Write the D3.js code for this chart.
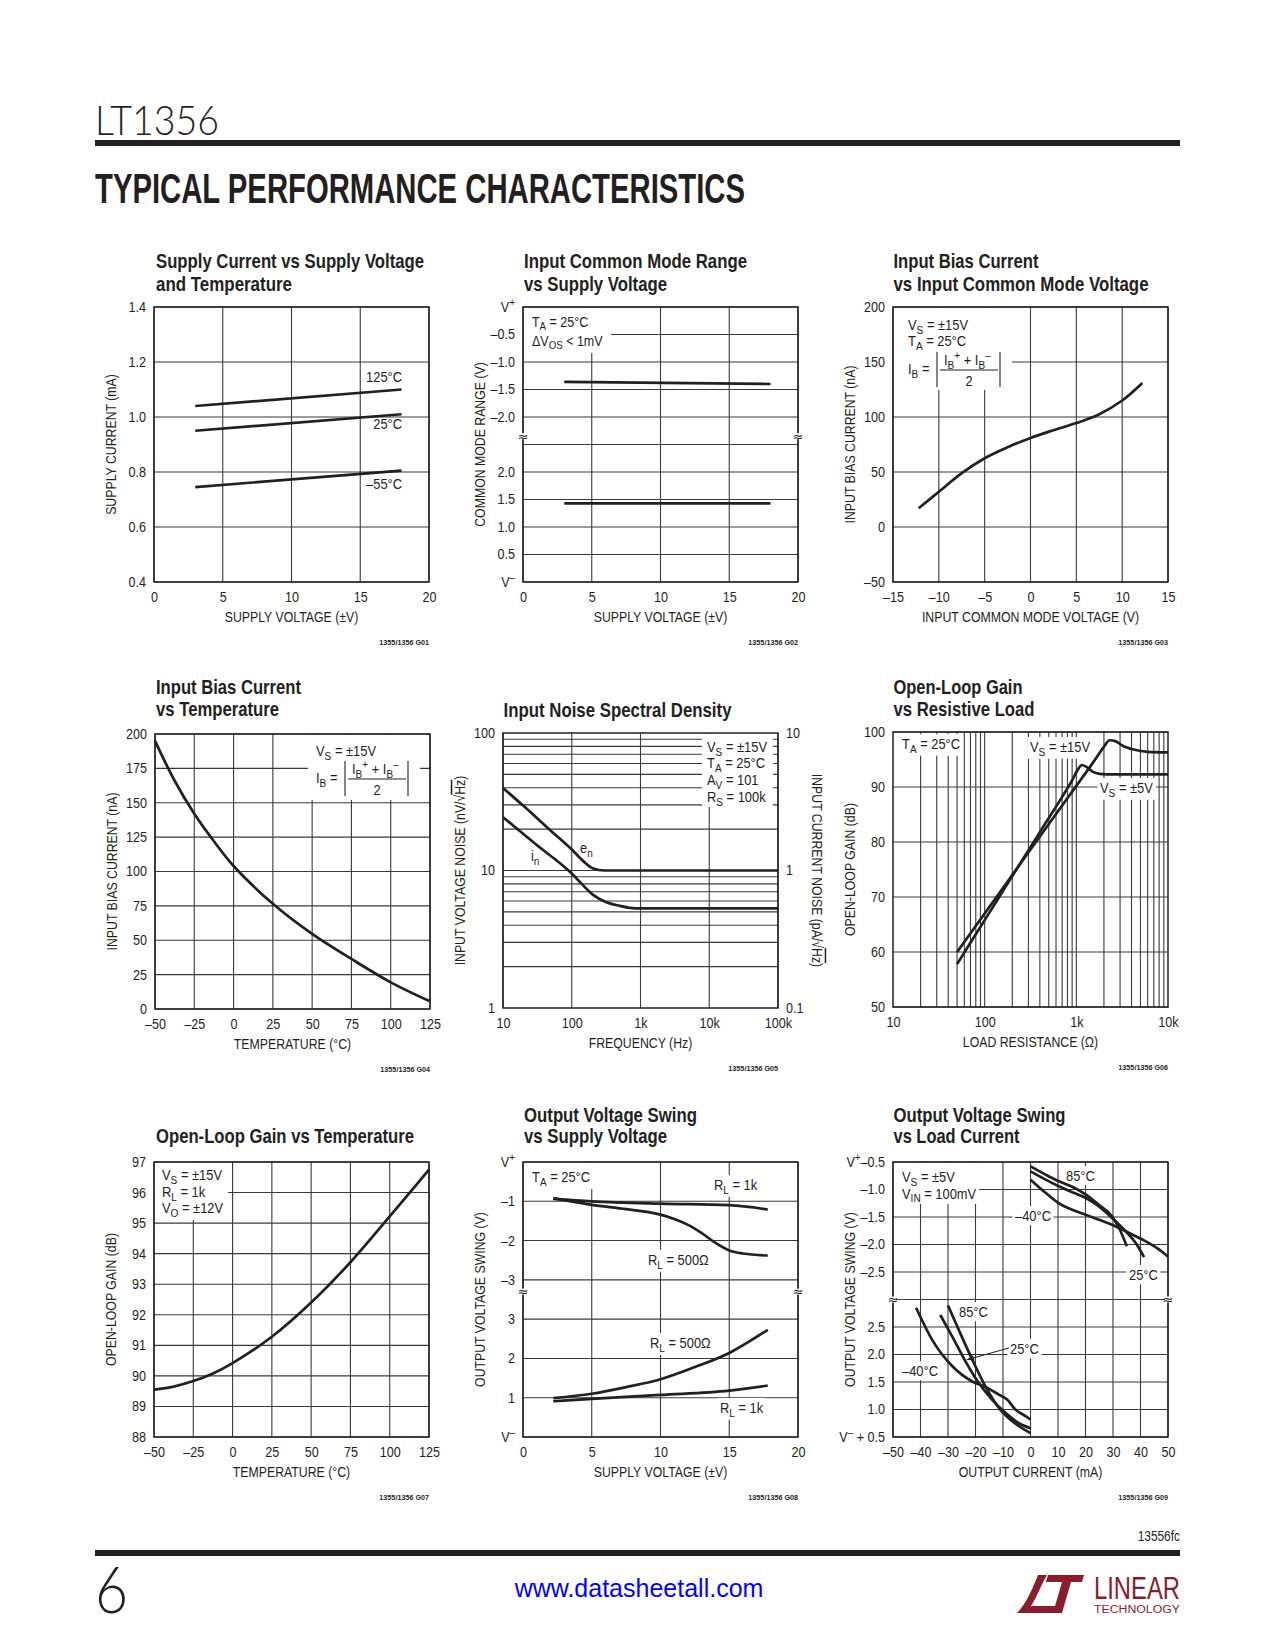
<!DOCTYPE html>
<html><head><meta charset="utf-8">
<script src="https://cdn.jsdelivr.net/npm/d3@7"></script>
<style>html,body{margin:0;padding:0;background:#fff;}svg{display:block;}</style>
</head><body>
<svg id="page" width="1275" height="1650"></svg>
<script>
// ================= DATA =================
// G01 Supply current vs supply voltage
const g01Title = ["Supply Current vs Supply Voltage", "and Temperature"];
const g01XTicks = [0, 5, 10, 15, 20];
const g01XTickLabels = ["0", "5", "10", "15", "20"];
const g01YTicks = [0.4, 0.6, 0.8, 1.0, 1.2, 1.4];
const g01YTickLabels = ["0.4", "0.6", "0.8", "1.0", "1.2", "1.4"];
const g01SupplyV = [3, 18];
const g01I125 = [1.04, 1.10];
const g01I25 = [0.95, 1.01];
const g01Im55 = [0.745, 0.805];

// G02 Input common mode range (broken axis: slots)
const g02Title = ["Input Common Mode Range", "vs Supply Voltage"];
const g02XTicks = [0, 5, 10, 15, 20];
const g02XTickLabels = ["0", "5", "10", "15", "20"];
const g02YSlots = [0, 1, 2, 3, 4, 5, 6, 7, 8, 9, 10];
const g02YTickLabels = ["V^{+}", "–0.5", "–1.0", "–1.5", "–2.0", "", "2.0", "1.5", "1.0", "0.5", "V^{–}"];
const g02SupplyV = [3, 18];
const g02UpperFromVplus = [-1.36, -1.40];
const g02LowerFromVminus = [1.43, 1.43];

// G03 Input bias current vs common mode voltage
const g03Title = ["Input Bias Current", "vs Input Common Mode Voltage"];
const g03XTicks = [-15, -10, -5, 0, 5, 10, 15];
const g03XTickLabels = ["–15", "–10", "–5", "0", "5", "10", "15"];
const g03YTicks = [-50, 0, 50, 100, 150, 200];
const g03YTickLabels = ["–50", "0", "50", "100", "150", "200"];
const g03Vcm = [-12.2, -10, -7.5, -5, -2.5, 0, 2.5, 5, 7.5, 10, 12.2];
const g03Ib = [17, 32, 49, 62.5, 72.5, 81, 88, 94.5, 102.5, 115, 131];

// G04 Input bias current vs temperature
const g04Title = ["Input Bias Current", "vs Temperature"];
const g04XTicks = [-50, -25, 0, 25, 50, 75, 100, 125];
const g04XTickLabels = ["–50", "–25", "0", "25", "50", "75", "100", "125"];
const g04YTicks = [0, 25, 50, 75, 100, 125, 150, 175, 200];
const g04YTickLabels = ["0", "25", "50", "75", "100", "125", "150", "175", "200"];
const g04Temp = [-50, -37.5, -25, -12.5, 0, 25, 50, 75, 100, 125];
const g04Ib = [195, 166, 142, 122, 104, 76.5, 54.6, 36.4, 19.4, 5.6];

// G05 Input noise spectral density
const g05Title = ["Input Noise Spectral Density"];
const g05XTicks = [10, 100, 1000, 10000, 100000];
const g05XTickLabels = ["10", "100", "1k", "10k", "100k"];
const g05YTicks = [1, 10, 100];
const g05YTickLabels = ["1", "10", "100"];
const g05YGrid = [2, 3, 4, 5, 6, 7, 8, 9, 10, 20, 30, 40, 50, 60, 70, 80, 90];
const g05YRTicks = [0.1, 1, 10];
const g05YRTickLabels = ["0.1", "1", "10"];
const g05FreqEn = [10, 20, 50, 100, 150, 200, 300, 1000, 100000];
const g05En = [39.8, 29.4, 19.4, 14.2, 11.6, 10.4, 10.0, 10.0, 10.0];
const g05FreqIn = [10, 30, 100, 150, 200, 300, 500, 700, 1000, 100000];
const g05In = [2.44, 1.55, 0.95, 0.77, 0.67, 0.595, 0.553, 0.535, 0.53, 0.53];

// G06 Open-loop gain vs resistive load
const g06Title = ["Open-Loop Gain", "vs Resistive Load"];
const g06XTicks = [10, 100, 1000, 10000];
const g06XTickLabels = ["10", "100", "1k", "10k"];
const g06XGrid = [20, 30, 40, 50, 60, 70, 80, 90, 100, 200, 300, 400, 500, 600, 700, 800, 900, 1000, 2000, 3000, 4000, 5000, 6000, 7000, 8000, 9000];
const g06YTicks = [50, 60, 70, 80, 90, 100];
const g06YTickLabels = ["50", "60", "70", "80", "90", "100"];
const g06R15 = [50, 100, 200, 400, 1000, 1500, 2000, 2300, 2700, 3200, 4000, 6000, 10000];
const g06G15 = [60, 67, 74, 81, 90.2, 94.3, 97.3, 98.5, 98.3, 97.5, 96.9, 96.4, 96.3];
const g06R5 = [50, 100, 200, 400, 700, 900, 1050, 1150, 1300, 1500, 1800, 2500, 10000];
const g06G5 = [57.8, 65.8, 73.8, 81.8, 88.2, 91.2, 93.3, 94.0, 93.6, 92.8, 92.4, 92.3, 92.3];

// G07 Open-loop gain vs temperature
const g07Title = ["Open-Loop Gain vs Temperature"];
const g07XTicks = [-50, -25, 0, 25, 50, 75, 100, 125];
const g07XTickLabels = ["–50", "–25", "0", "25", "50", "75", "100", "125"];
const g07YTicks = [88, 89, 90, 91, 92, 93, 94, 95, 96, 97];
const g07YTickLabels = ["88", "89", "90", "91", "92", "93", "94", "95", "96", "97"];
const g07Temp = [-50, -37.5, -25, -12.5, 0, 25, 50, 75, 100, 125];
const g07Gain = [89.55, 89.65, 89.83, 90.08, 90.42, 91.28, 92.4, 93.72, 95.22, 96.75];

// G08 Output voltage swing vs supply voltage (broken axis)
const g08Title = ["Output Voltage Swing", "vs Supply Voltage"];
const g08XTicks = [0, 5, 10, 15, 20];
const g08XTickLabels = ["0", "5", "10", "15", "20"];
const g08YSlots = [0, 1, 2, 3, 4, 5, 6, 7];
const g08YTickLabels = ["V^{+}", "–1", "–2", "–3", "3", "2", "1", "V^{–}"];
const g08VsUp1k = [2.2, 5, 10, 15, 17.8];
const g08Up1k = [-0.94, -1.0, -1.06, -1.1, -1.21];
const g08VsUp500 = [2.2, 5, 7.5, 10, 11, 12, 13, 14, 15, 16, 17.8];
const g08Up500 = [-0.92, -1.09, -1.2, -1.34, -1.45, -1.6, -1.81, -2.06, -2.25, -2.33, -2.38];
const g08VsLo500 = [2.2, 5, 7.5, 10, 12.5, 15, 17.8];
const g08Lo500 = [0.99, 1.1, 1.27, 1.47, 1.78, 2.14, 2.73];
const g08VsLo1k = [2.2, 5, 10, 15, 17.8];
const g08Lo1k = [0.91, 0.97, 1.07, 1.18, 1.31];

// G09 Output voltage swing vs load current (broken axis)
const g09Title = ["Output Voltage Swing", "vs Load Current"];
const g09XTicks = [-50, -40, -30, -20, -10, 0, 10, 20, 30, 40, 50];
const g09XTickLabels = ["–50", "–40", "–30", "–20", "–10", "0", "10", "20", "30", "40", "50"];
const g09YSlots = [0, 1, 2, 3, 4, 5, 6, 7, 8, 9, 10];
const g09YTickLabels = ["V^{+}–0.5", "–1.0", "–1.5", "–2.0", "–2.5", "", "2.5", "2.0", "1.5", "1.0", "V^{–} + 0.5"];
const g09I85Up = [0, 5.5, 10.3, 15.2, 20, 24.9, 29.7, 32.2, 35];
const g09V85Up = [-0.58, -0.73, -0.85, -0.95, -1.09, -1.28, -1.49, -1.70, -2.03];
const g09I25Up = [0, 5.5, 10.3, 15.2, 20, 24.9, 29.7, 34.6, 38.2, 41.3];
const g09V25Up = [-0.67, -0.82, -0.94, -1.05, -1.15, -1.31, -1.52, -1.76, -1.97, -2.23];
const g09Im40Up = [0, 5.5, 10.3, 15.2, 20, 24.9, 29.7, 34.6, 40.7, 46.7, 50];
const g09Vm40Up = [-0.82, -1.06, -1.25, -1.37, -1.46, -1.55, -1.64, -1.76, -1.91, -2.09, -2.22];
const g09Im40Lo = [-41.6, -35.8, -28.5, -21.2, -16.4, -11.5, -8.5, -5.5, -1.8, 0];
const g09Vm40Lo = [2.85, 2.27, 1.79, 1.51, 1.41, 1.27, 1.18, 1.0, 0.88, 0.82];
const g09I25Lo = [-32.8, -28.5, -23.7, -18.8, -14.0, -9.1, -4.2, 0];
const g09V25Lo = [2.72, 2.33, 1.88, 1.48, 1.18, 0.94, 0.75, 0.66];
const g09I85Lo = [-30, -26.1, -21.2, -16.4, -11.5, -6.7, 0];
const g09V85Lo = [2.89, 2.45, 1.91, 1.42, 1.03, 0.79, 0.57];

// ================= DRAWING =================
const svg = d3.select("#page");
const SANS = "'Liberation Sans',Arial,Helvetica,sans-serif";
const SX_TICK = 0.9, SX_TITLE = 0.82, SX_NOTE = 0.86;
const INK = "#231f20";
const GRID = "#3a3a3a";
const W = 275, H = 275;

function rich(t, s, fs) {
  const parts = s.split(/(_\{[^}]*\}|\^\{[^}]*\}|~\{[^}]*\})/).filter(p => p.length);
  let cur = 0;
  parts.forEach(p => {
    let txt = p, shift = 0, size = fs, over = false;
    if (p[0] === "_" && p[1] === "{") { txt = p.slice(2, -1); shift = 0.24 * fs; size = 0.78 * fs; }
    else if (p[0] === "^" && p[1] === "{") { txt = p.slice(2, -1); shift = -0.42 * fs; size = 0.78 * fs; }
    else if (p[0] === "~" && p[1] === "{") { txt = p.slice(2, -1); over = true; }
    const ts = t.append("tspan").attr("font-size", size).text(txt);
    if (shift - cur !== 0) ts.attr("dy", shift - cur);
    if (over) ts.attr("text-decoration", "overline");
    cur = shift;
  });
}

function label(g, x, y, s, o = {}) {
  const fs = o.fs || 15;
  const sx = o.sx || SX_NOTE;
  const outer = g.append("g").attr("transform", `translate(${x},${y})${o.rot ? ` rotate(${o.rot})` : ""}`);
  const inner = outer.append("g").attr("transform", `scale(${sx},1)`);
  const t = inner.append("text").attr("x", 0).attr("y", 0)
    .attr("font-family", SANS).attr("font-size", fs).attr("fill", o.fill || INK)
    .attr("font-weight", o.weight || "normal")
    .attr("text-anchor", o.anchor || "start");
  rich(t, s, fs);
  if (o.bg) {
    const b = t.node().getBBox();
    const p = o.pad == null ? 3 : o.pad;
    inner.insert("rect", "text")
      .attr("x", b.x - p).attr("y", b.y - p + 2)
      .attr("width", b.width + 2 * p).attr("height", b.height + 2 * p - 4)
      .attr("fill", "#fff");
  }
  return t;
}

function styleAxis(ga) {
  ga.select(".domain").remove();
  ga.attr("font-family", SANS).attr("font-size", 14);
  ga.selectAll("text").attr("fill", INK).each(function () {
    const t = d3.select(this); const s = t.text(); t.text(""); rich(t, s, 14);
    const xv = +t.attr("x") || 0;
    t.attr("x", xv / SX_TICK).attr("transform", `scale(${SX_TICK},1)`);
  });
}

function makePlot(c) {
  const g = svg.append("g");
  const L = { grid: g.append("g"), bg: g.append("g"), lab: g.append("g"), crv: g.append("g"), frm: g.append("g"), ax: g.append("g") };
  const x = c.x.copy().range([c.x0, c.x0 + W]);
  const y = c.y.copy().range([c.y0 + H, c.y0]);
  L.grid.selectAll(null).data(c.xGrid).join("line")
    .attr("x1", d => x(d)).attr("x2", d => x(d)).attr("y1", c.y0).attr("y2", c.y0 + H)
    .attr("stroke", GRID).attr("stroke-width", 1.1);
  L.grid.selectAll(null).data(c.yGrid).join("line")
    .attr("y1", d => y(d)).attr("y2", d => y(d)).attr("x1", c.x0).attr("x2", c.x0 + W)
    .attr("stroke", GRID).attr("stroke-width", 1.1);
  L.frm.append("rect").attr("x", c.x0).attr("y", c.y0).attr("width", W).attr("height", H)
    .attr("fill", "none").attr("stroke", INK).attr("stroke-width", 1.5);
  const ax = d3.axisBottom(x).tickValues(c.xTicks).tickFormat((d, i) => c.xLabels[i]).tickSize(0).tickPadding(10);
  styleAxis(L.ax.append("g").attr("transform", `translate(0,${c.y0 + H})`).call(ax));
  const ay = d3.axisLeft(y).tickValues(c.yTicks).tickFormat((d, i) => c.yLabels[i]).tickSize(0).tickPadding(8);
  styleAxis(L.ax.append("g").attr("transform", `translate(${c.x0},0)`).call(ay));
  const n = c.title.length;
  c.title.forEach((s, i) => {
    L.ax.append("text").attr("x", c.titleX).attr("y", c.titleY[2 - n + i])
      .attr("font-family", SANS).attr("font-weight", "bold").attr("font-size", 20.5).attr("fill", INK)
      .attr("textLength", c.titleW[i]).attr("lengthAdjust", "spacingAndGlyphs").text(s);
  });
  label(L.ax, c.x0 + W / 2, c.y0 + H + 40, c.xTitle, { anchor: "middle", fs: 15, sx: SX_TITLE });
  label(L.ax, c.x0 - 38, c.y0 + H / 2, c.yTitle, { anchor: "middle", fs: 15, rot: -90, sx: SX_TITLE });
  label(L.ax, c.x0 + W, c.y0 + H + 63, c.code, { anchor: "end", fs: 8, weight: "bold", sx: 0.9 });
  return { x, y, L, g, x0: c.x0, y0: c.y0 };
}

function drawCurve(P, xs, ys, fy, curveType) {
  const pts = xs.map((v, i) => [P.x(v), fy ? fy(ys[i]) : P.y(ys[i])]);
  P.L.crv.append("path").attr("d", d3.line().curve(curveType || d3.curveMonotoneX)(pts))
    .attr("fill", "none").attr("stroke", INK).attr("stroke-width", 2.7).attr("stroke-linejoin", "round");
}
const SMOOTH = d3.curveCatmullRom.alpha(0.5);

function box(P, rx, ry, w, h) {
  P.L.bg.append("rect").attr("x", P.x0 + rx).attr("y", P.y0 + ry).attr("width", w).attr("height", h).attr("fill", "#fff");
}

function breakMark(P, slot) {
  const yy = P.y(slot);
  [P.x0, P.x0 + W].forEach(xx => {
    P.L.ax.append("rect").attr("x", xx - 3).attr("y", yy - 3).attr("width", 6).attr("height", 6).attr("fill", "#fff");
    P.L.ax.append("text").attr("x", xx).attr("y", yy).attr("dy", "0.33em").attr("text-anchor", "middle")
      .attr("font-size", 13).attr("font-family", "DejaVu Sans, sans-serif").attr("fill", INK).text("≈");
  });
}

function ibFormula(P, rx, ry) {
  const g = P.L.lab;
  const X = P.x0 + rx, Y = P.y0 + ry;
  label(g, X, Y, "I_{B} =", { fs: 15 });
  [29, 92].forEach(dx => g.append("line").attr("x1", X + dx).attr("x2", X + dx).attr("y1", Y - 22).attr("y2", Y + 13)
    .attr("stroke", INK).attr("stroke-width", 1.1));
  label(g, X + 36, Y - 9, "I_{B}^{+} + I_{B}^{–}", { fs: 15 });
  g.append("line").attr("x1", X + 32).attr("x2", X + 90).attr("y1", Y - 4).attr("y2", Y - 4).attr("stroke", INK).attr("stroke-width", 1);
  label(g, X + 61, Y + 12, "2", { fs: 15, anchor: "middle" });
}

// ---------- G01 ----------
{
  const P = makePlot({ x0: 154, y0: 307, x: d3.scaleLinear().domain([0, 20]), y: d3.scaleLinear().domain([0.4, 1.4]),
    xGrid: g01XTicks, yGrid: g01YTicks, xTicks: g01XTicks, xLabels: g01XTickLabels, yTicks: g01YTicks, yLabels: g01YTickLabels,
    title: g01Title, titleX: 156, titleY: [268, 291], titleW: [268, 136],
    xTitle: "SUPPLY VOLTAGE (±V)", yTitle: "SUPPLY CURRENT (mA)", code: "1355/1356 G01" });
  drawCurve(P, g01SupplyV, g01I125);
  drawCurve(P, g01SupplyV, g01I25);
  drawCurve(P, g01SupplyV, g01Im55);
  label(P.L.lab, P.x0 + 248, P.y0 + 75, "125°C", { anchor: "end" });
  label(P.L.lab, P.x0 + 248, P.y0 + 122, "25°C", { anchor: "end" });
  label(P.L.lab, P.x0 + 248, P.y0 + 182, "–55°C", { anchor: "end" });
}

// ---------- G02 ----------
{
  const P = makePlot({ x0: 523, y0: 307, x: d3.scaleLinear().domain([0, 20]), y: d3.scaleLinear().domain([10, 0]),
    xGrid: g02XTicks, yGrid: g02YSlots, xTicks: g02XTicks, xLabels: g02XTickLabels, yTicks: g02YSlots, yLabels: g02YTickLabels,
    title: g02Title, titleX: 524, titleY: [268, 291], titleW: [223, 143],
    xTitle: "SUPPLY VOLTAGE (±V)", yTitle: "COMMON MODE RANGE (V)", code: "1355/1356 G02" });
  const up = v => P.y(-v / 0.5), lo = v => P.y(10 - v / 0.5);
  drawCurve(P, g02SupplyV, g02UpperFromVplus, up);
  drawCurve(P, g02SupplyV, g02LowerFromVminus, lo);
  breakMark(P, 4.7);
  box(P, 1, 1, 87, 45);
  label(P.L.lab, P.x0 + 9, P.y0 + 20, "T_{A} = 25°C", { fs: 14.5 });
  label(P.L.lab, P.x0 + 9, P.y0 + 39, "ΔV_{OS} < 1mV", { fs: 14.5 });
}

// ---------- G03 ----------
{
  const P = makePlot({ x0: 893, y0: 307, x: d3.scaleLinear().domain([-15, 15]), y: d3.scaleLinear().domain([-50, 200]),
    xGrid: g03XTicks, yGrid: g03YTicks, xTicks: g03XTicks, xLabels: g03XTickLabels, yTicks: g03YTicks, yLabels: g03YTickLabels,
    title: g03Title, titleX: 893.5, titleY: [268, 291], titleW: [145, 255],
    xTitle: "INPUT COMMON MODE VOLTAGE (V)", yTitle: "INPUT BIAS CURRENT (nA)", code: "1355/1356 G03" });
  drawCurve(P, g03Vcm, g03Ib, null, SMOOTH);
  box(P, 1, 1, 118, 82);
  label(P.L.lab, P.x0 + 15, P.y0 + 23, "V_{S} = ±15V");
  label(P.L.lab, P.x0 + 15, P.y0 + 39, "T_{A} = 25°C");
  ibFormula(P, 15, 67);
}

// ---------- G04 ----------
{
  const P = makePlot({ x0: 155, y0: 734, x: d3.scaleLinear().domain([-50, 125]), y: d3.scaleLinear().domain([0, 200]),
    xGrid: g04XTicks, yGrid: g04YTicks, xTicks: g04XTicks, xLabels: g04XTickLabels, yTicks: g04YTicks, yLabels: g04YTickLabels,
    title: g04Title, titleX: 156, titleY: [694, 716], titleW: [145, 123],
    xTitle: "TEMPERATURE (°C)", yTitle: "INPUT BIAS CURRENT (nA)", code: "1355/1356 G04" });
  drawCurve(P, g04Temp, g04Ib, null, SMOOTH);
  box(P, 153, 1, 112, 65);
  label(P.L.lab, P.x0 + 161, P.y0 + 22, "V_{S} = ±15V");
  ibFormula(P, 161, 49);
}

// ---------- G05 ----------
{
  const P = makePlot({ x0: 503, y0: 733, x: d3.scaleLog().domain([10, 100000]), y: d3.scaleLog().domain([1, 100]),
    xGrid: g05XTicks, yGrid: g05YGrid, xTicks: g05XTicks, xLabels: g05XTickLabels, yTicks: g05YTicks, yLabels: g05YTickLabels,
    title: g05Title, titleX: 503.5, titleY: [694, 717], titleW: [228],
    xTitle: "FREQUENCY (Hz)", yTitle: "INPUT VOLTAGE NOISE (nV/√~{Hz})", code: "1355/1356 G05" });
  const yR = d3.scaleLog().domain([0.1, 10]).range([P.y0 + H, P.y0]);
  const ar = d3.axisRight(yR).tickValues(g05YRTicks).tickFormat((d, i) => g05YRTickLabels[i]).tickSize(0).tickPadding(8);
  styleAxis(P.L.ax.append("g").attr("transform", `translate(${P.x0 + W},0)`).call(ar));
  label(P.L.ax, P.x0 + W + 34, P.y0 + H / 2, "INPUT CURRENT NOISE (pA/√~{Hz})", { anchor: "middle", fs: 15, rot: 90, sx: SX_TITLE });
  drawCurve(P, g05FreqEn, g05En);
  drawCurve(P, g05FreqIn, g05In, v => yR(v));
  box(P, 199, 1, 71, 73);
  label(P.L.lab, P.x0 + 204, P.y0 + 19, "V_{S} = ±15V");
  label(P.L.lab, P.x0 + 204, P.y0 + 35, "T_{A} = 25°C");
  label(P.L.lab, P.x0 + 204, P.y0 + 52, "A_{V} = 101");
  label(P.L.lab, P.x0 + 204, P.y0 + 69, "R_{S} = 100k");
  label(P.L.lab, P.x0 + 77, P.y0 + 120, "e_{n}");
  label(P.L.lab, P.x0 + 28, P.y0 + 128, "i_{n}");
}

// ---------- G06 ----------
{
  const P = makePlot({ x0: 893, y0: 732, x: d3.scaleLog().domain([10, 10000]), y: d3.scaleLinear().domain([50, 100]),
    xGrid: g06XGrid, yGrid: g06YTicks, xTicks: g06XTicks, xLabels: g06XTickLabels, yTicks: g06YTicks, yLabels: g06YTickLabels,
    title: g06Title, titleX: 893.5, titleY: [694, 716], titleW: [129, 141],
    xTitle: "LOAD RESISTANCE (Ω)", yTitle: "OPEN-LOOP GAIN (dB)", code: "1355/1356 G06" });
  drawCurve(P, g06R15, g06G15);
  drawCurve(P, g06R5, g06G5);
  label(P.L.lab, P.x0 + 9, P.y0 + 17, "T_{A} = 25°C", { bg: true });
  label(P.L.lab, P.x0 + 137, P.y0 + 20, "V_{S} = ±15V", { bg: true });
  label(P.L.lab, P.x0 + 207, P.y0 + 61, "V_{S} = ±5V", { bg: true });
}

// ---------- G07 ----------
{
  const P = makePlot({ x0: 154, y0: 1162, x: d3.scaleLinear().domain([-50, 125]), y: d3.scaleLinear().domain([88, 97]),
    xGrid: g07XTicks, yGrid: g07YTicks, xTicks: g07XTicks, xLabels: g07XTickLabels, yTicks: g07YTicks, yLabels: g07YTickLabels,
    title: g07Title, titleX: 156, titleY: [1122, 1143], titleW: [258],
    xTitle: "TEMPERATURE (°C)", yTitle: "OPEN-LOOP GAIN (dB)", code: "1355/1356 G07" });
  drawCurve(P, g07Temp, g07Gain, null, SMOOTH);
  box(P, 1, 1, 73, 57);
  label(P.L.lab, P.x0 + 8, P.y0 + 18, "V_{S} = ±15V");
  label(P.L.lab, P.x0 + 8, P.y0 + 35, "R_{L} = 1k");
  label(P.L.lab, P.x0 + 8, P.y0 + 51, "V_{O} = ±12V");
}

// ---------- G08 ----------
{
  const P = makePlot({ x0: 523, y0: 1162, x: d3.scaleLinear().domain([0, 20]), y: d3.scaleLinear().domain([7, 0]),
    xGrid: g08XTicks, yGrid: g08YSlots, xTicks: g08XTicks, xLabels: g08XTickLabels, yTicks: g08YSlots, yLabels: g08YTickLabels,
    title: g08Title, titleX: 524, titleY: [1122, 1143], titleW: [173, 143],
    xTitle: "SUPPLY VOLTAGE (±V)", yTitle: "OUTPUT VOLTAGE SWING (V)", code: "1355/1356 G08" });
  const up = v => P.y(-v), lo = v => P.y(7 - v);
  drawCurve(P, g08VsUp1k, g08Up1k, up);
  drawCurve(P, g08VsUp500, g08Up500, up);
  drawCurve(P, g08VsLo500, g08Lo500, lo);
  drawCurve(P, g08VsLo1k, g08Lo1k, lo);
  breakMark(P, 3.3);
  box(P, 1, 1, 71, 26);
  label(P.L.lab, P.x0 + 9, P.y0 + 20, "T_{A} = 25°C");
  label(P.L.lab, P.x0 + 191, P.y0 + 28, "R_{L} = 1k", { bg: true });
  label(P.L.lab, P.x0 + 125, P.y0 + 103, "R_{L} = 500Ω", { bg: true });
  label(P.L.lab, P.x0 + 127, P.y0 + 186, "R_{L} = 500Ω", { bg: true });
  label(P.L.lab, P.x0 + 197, P.y0 + 251, "R_{L} = 1k", { bg: true });
}

// ---------- G09 ----------
{
  const P = makePlot({ x0: 893, y0: 1162, x: d3.scaleLinear().domain([-50, 50]), y: d3.scaleLinear().domain([10, 0]),
    xGrid: g09XTicks, yGrid: g09YSlots, xTicks: g09XTicks, xLabels: g09XTickLabels, yTicks: g09YSlots, yLabels: g09YTickLabels,
    title: g09Title, titleX: 893.5, titleY: [1122, 1143], titleW: [172, 126],
    xTitle: "OUTPUT CURRENT (mA)", yTitle: "OUTPUT VOLTAGE SWING (V)", code: "1355/1356 G09" });
  const up = v => P.y(-2 * v - 1), lo = v => P.y(11 - 2 * v);
  drawCurve(P, g09I85Up, g09V85Up, up);
  drawCurve(P, g09I25Up, g09V25Up, up);
  drawCurve(P, g09Im40Up, g09Vm40Up, up);
  drawCurve(P, g09Im40Lo, g09Vm40Lo, lo);
  drawCurve(P, g09I25Lo, g09V25Lo, lo);
  drawCurve(P, g09I85Lo, g09V85Lo, lo);
  breakMark(P, 5);
  box(P, 1, 1, 85, 41);
  label(P.L.lab, P.x0 + 9, P.y0 + 20, "V_{S} = ±5V");
  label(P.L.lab, P.x0 + 9, P.y0 + 36.5, "V_{IN} = 100mV");
  label(P.L.lab, P.x0 + 173, P.y0 + 19, "85°C", { bg: true });
  label(P.L.lab, P.x0 + 122, P.y0 + 59, "–40°C", { bg: true });
  label(P.L.lab, P.x0 + 236, P.y0 + 118, "25°C", { bg: true });
  label(P.L.lab, P.x0 + 66, P.y0 + 155, "85°C", { bg: true });
  label(P.L.lab, P.x0 + 117, P.y0 + 192, "25°C", { bg: true });
  label(P.L.lab, P.x0 + 9, P.y0 + 214, "–40°C", { bg: true });
  // arrow pointing at the 25°C curve
  const ax1 = P.x0 + 116, ay1 = P.y0 + 186, ax2 = P.x0 + 73, ay2 = P.y0 + 198;
  P.L.ax.append("line").attr("x1", ax1).attr("y1", ay1).attr("x2", ax2 + 6).attr("y2", ay2 - 1.7).attr("stroke", INK).attr("stroke-width", 1);
  const ang = Math.atan2(ay2 - ay1, ax2 - ax1);
  const L1 = 8, wd = 2.6;
  const bx = ax2 - L1 * Math.cos(ang), by = ay2 - L1 * Math.sin(ang);
  P.L.ax.append("path").attr("d", `M${ax2},${ay2}L${bx - wd * Math.sin(ang)},${by + wd * Math.cos(ang)}L${bx + wd * Math.sin(ang)},${by - wd * Math.cos(ang)}Z`).attr("fill", INK);
}

// ---------- HEADER / FOOTER ----------
svg.append("text").attr("x", 95).attr("y", 135).attr("font-family", "Lato,'Open Sans',sans-serif").attr("font-weight", 300)
  .attr("font-size", 42).attr("textLength", 124).attr("lengthAdjust", "spacingAndGlyphs").attr("fill", INK).text("LT1356");
svg.append("rect").attr("x", 95).attr("y", 140).attr("width", 1085).attr("height", 6).attr("fill", INK);
svg.append("text").attr("x", 95).attr("y", 203).attr("font-family", SANS).attr("font-weight", "bold")
  .attr("font-size", 43).attr("textLength", 650).attr("lengthAdjust", "spacingAndGlyphs").attr("fill", INK).text("TYPICAL PERFORMANCE CHARACTERISTICS");

label(svg, 1180, 1541, "13556fc", { anchor: "end", fs: 14, sx: 0.85 });
svg.append("rect").attr("x", 95).attr("y", 1550).attr("width", 1085).attr("height", 6).attr("fill", INK);
svg.append("text").attr("x", 95).attr("y", 1613).attr("font-family", "Lato,'Open Sans',sans-serif").attr("font-weight", 300)
  .attr("font-size", 66).attr("textLength", 33).attr("lengthAdjust", "spacingAndGlyphs").attr("fill", INK).text("6");
svg.append("text").attr("x", 639).attr("y", 1597).attr("text-anchor", "middle").attr("font-family", SANS)
  .attr("font-size", 25).attr("fill", "#0000ff").text("www.datasheetall.com");
{
  const MAROON = "#8b1c2c";
  const lg = svg.append("g").attr("transform", "translate(1017,1575)");
  lg.append("path").attr("d", "M0,38 L40,38 L42,31 L14,31 C20,22 24,10 30,0 L21,0 C16,12 10,28 0,38 Z").attr("fill", MAROON);
  lg.append("path").attr("d", "M31,0 L67,0 L65,7 L54,7 L45,38 L36,38 L45,7 L29,7 Z").attr("fill", MAROON);
  svg.append("text").attr("x", 1094).attr("y", 1599).attr("font-family", SANS).attr("font-size", 31)
    .attr("textLength", 86).attr("lengthAdjust", "spacingAndGlyphs").attr("fill", MAROON).text("LINEAR");
  svg.append("text").attr("x", 1094).attr("y", 1612.5).attr("font-family", SANS).attr("font-size", 10)
    .attr("textLength", 86).attr("lengthAdjust", "spacingAndGlyphs").attr("fill", MAROON).text("TECHNOLOGY");
}
</script>
</body></html>
